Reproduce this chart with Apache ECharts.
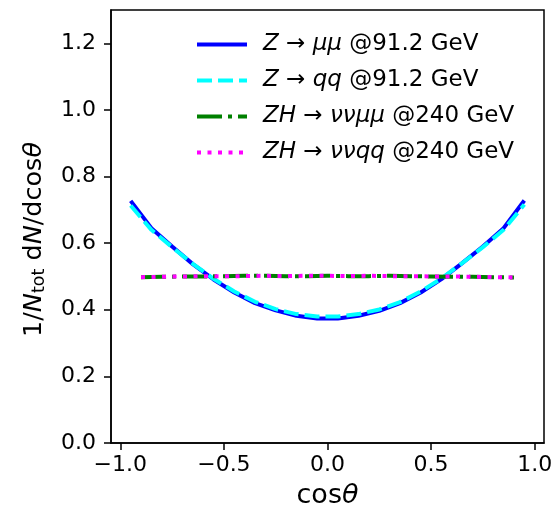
<!DOCTYPE html>
<html>
<head>
<meta charset="utf-8">
<script src="https://cdn.jsdelivr.net/npm/echarts@6/dist/echarts.min.js"></script>
<style>
  html, body { margin: 0; padding: 0; background: #fff; }
  #chart { width: 552px; height: 507px; }
</style>
</head>
<body>
<div id="chart"></div>
<script>
// bin centres for the Z samples (91.2 GeV)
const cosZ = [-0.95, -0.85, -0.75, -0.65, -0.55, -0.45, -0.35, -0.25, -0.15, -0.05,
              0.05, 0.15, 0.25, 0.35, 0.45, 0.55, 0.65, 0.75, 0.85, 0.95];
const zMuMu = [0.727, 0.645, 0.590, 0.537, 0.491, 0.452, 0.420, 0.398, 0.382, 0.374,
               0.374, 0.382, 0.397, 0.420, 0.452, 0.492, 0.540, 0.590, 0.645, 0.728];
const zQQ = [0.713, 0.640, 0.588, 0.538, 0.493, 0.455, 0.424, 0.402, 0.387, 0.380,
             0.380, 0.387, 0.401, 0.423, 0.455, 0.494, 0.540, 0.588, 0.640, 0.716];

// ZH samples (240 GeV)
const cosZH = [-0.9, -0.8, -0.7, -0.6, -0.5, -0.4, -0.3, -0.2, -0.1, 0.0,
               0.1, 0.2, 0.3, 0.4, 0.5, 0.6, 0.7, 0.8, 0.9];
const zhMuMu = [0.498, 0.499, 0.500, 0.500, 0.501, 0.502, 0.502, 0.501, 0.501, 0.502,
                0.501, 0.501, 0.502, 0.501, 0.500, 0.499, 0.499, 0.498, 0.497];
const zhQQ = [0.498, 0.499, 0.500, 0.501, 0.501, 0.501, 0.502, 0.501, 0.502, 0.502,
              0.501, 0.502, 0.501, 0.501, 0.500, 0.500, 0.499, 0.498, 0.497];

const xTicks = [-1.0, -0.5, 0.0, 0.5, 1.0];
const yTicks = [0.0, 0.2, 0.4, 0.6, 0.8, 1.0, 1.2];

const names = ['Zmumu', 'Zqq', 'ZHmumu', 'ZHqq'];
const legendText = {
  Zmumu: '{i|Z} → {i|μμ} @91.2 GeV',
  Zqq: '{i|Z} → {i|qq} @91.2 GeV',
  ZHmumu: '{i|ZH} → {i|ννμμ} @240 GeV',
  ZHqq: '{i|ZH} → {i|ννqq} @240 GeV'
};

const pairs = (xs, ys) => xs.map((x, i) => [x, ys[i]]);
const fmt = v => (v < 0 ? '\u2212' : '') + Math.abs(v).toFixed(1);
const font = 'DejaVu Sans';

let chart = echarts.init(document.getElementById('chart'));
let option = {
  animation: false,
  textStyle: { fontFamily: font },
  grid: {
    left: 111, right: 8, top: 10, bottom: 64,
    outerBoundsMode: 'none', containLabel: false,
    show: true, borderColor: '#000', borderWidth: 1.5
  },
  legend: {
    orient: 'vertical',
    left: 190, top: 28,
    itemWidth: 50, itemHeight: 14, itemGap: 13,
    data: names,
    formatter: n => legendText[n],
    itemStyle: { opacity: 0 },
    lineStyle: { width: 4 },
    textStyle: {
      fontFamily: font, fontSize: 23, color: '#000',
      padding: [0, 0, 0, 11],
      rich: {
        i: { fontFamily: font, fontStyle: 'italic', fontSize: 23, color: '#000' }
      }
    }
  },
  xAxis: {
    type: 'value', min: -1.045, max: 1.045,
    name: '{n|cos}{i|θ}', nameLocation: 'middle', nameGap: 39,
    nameTextStyle: {
      rich: {
        n: { fontFamily: font, fontSize: 27, color: '#000' },
        i: { fontFamily: font, fontSize: 27, fontStyle: 'italic', color: '#000' }
      }
    },
    axisLine: { onZero: false, lineStyle: { color: '#000', width: 1.5 } },
    axisTick: { show: true, length: 7, lineStyle: { color: '#000', width: 1.5 }, customValues: xTicks },
    axisLabel: { customValues: xTicks, formatter: fmt, fontSize: 22, color: '#000', margin: 11 },
    splitLine: { show: false }
  },
  yAxis: {
    type: 'value', min: 0, max: 1.3,
    name: '{n|1/}{i|N}{s|tot}{n| d}{i|N}{n|/dcos}{i|θ}',
    nameLocation: 'middle', nameRotate: 90, nameGap: 62,
    nameTextStyle: {
      padding: [0, 26, 0, 0],
      rich: {
        n: { fontFamily: font, fontSize: 25.5, color: '#000', lineHeight: 30 },
        i: { fontFamily: font, fontSize: 25.5, fontStyle: 'italic', color: '#000', lineHeight: 30 },
        s: { fontFamily: font, fontSize: 17.5, color: '#000', lineHeight: 30, padding: [10, 0, 0, 0] }
      }
    },
    axisLine: { show: true, onZero: false, lineStyle: { color: '#000', width: 1.5 } },
    axisTick: { show: true, length: 7, lineStyle: { color: '#000', width: 1.5 }, customValues: yTicks },
    axisLabel: { customValues: yTicks, formatter: v => v.toFixed(1), fontSize: 22, color: '#000', margin: 15 },
    splitLine: { show: false }
  },
  series: [
    {
      name: 'Zmumu', type: 'line', symbol: 'none', data: pairs(cosZ, zMuMu),
      lineStyle: { color: '#0000ff', width: 4 }, itemStyle: { color: '#0000ff' }
    },
    {
      name: 'Zqq', type: 'line', symbol: 'none', data: pairs(cosZ, zQQ),
      lineStyle: { color: '#00ffff', width: 4, type: [15, 6] }, itemStyle: { color: '#00ffff' }
    },
    {
      name: 'ZHmumu', type: 'line', symbol: 'none', data: pairs(cosZH, zhMuMu),
      lineStyle: { color: '#008000', width: 4, type: [25, 6, 4, 6] }, itemStyle: { color: '#008000' }
    },
    {
      name: 'ZHqq', type: 'line', symbol: 'none', data: pairs(cosZH, zhQQ),
      lineStyle: { color: '#ff00ff', width: 4, type: [4, 6.5] }, itemStyle: { color: '#ff00ff' }
    }
  ]
};
option && chart.setOption(option);
</script>
</body>
</html>
